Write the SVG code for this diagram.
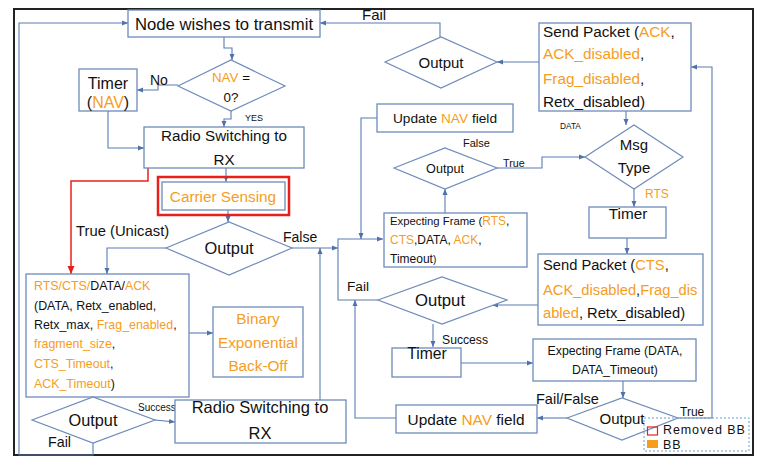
<svg xmlns="http://www.w3.org/2000/svg" width="757" height="458" viewBox="0 0 757 458">
<defs>
<marker id="ar" markerUnits="userSpaceOnUse" markerWidth="6" markerHeight="6" refX="6" refY="3" orient="auto"><path d="M0,0.5 L6,3 L0,5.5 z" fill="#4f72a8"/></marker>
<marker id="arr" markerUnits="userSpaceOnUse" markerWidth="8" markerHeight="8" refX="8" refY="4" orient="auto"><path d="M0,0.5 L8,4 L0,7.5 z" fill="#e8201c"/></marker>
<style>
.b{fill:#fff;stroke:#6f8bba;stroke-width:1.3}
.d{fill:#fff;stroke:#6f8bba;stroke-width:1.2}
.c{fill:none;stroke:#5a7db3;stroke-width:1.1;marker-end:url(#ar)}
.n{fill:none;stroke:#5a7db3;stroke-width:1.1}
text{font-family:"Liberation Sans",Arial,sans-serif;fill:#111}
.o{fill:#f59d1e}
.m{text-anchor:middle}
</style>
</defs>
<rect x="0" y="0" width="757" height="458" fill="#fff"/>
<rect x="14" y="9" width="739" height="446" fill="none" stroke="#222" stroke-width="2"/>

<g id="connectors">
<path class="c" d="M224,37 V48 H232 V60"/>
<path class="c" d="M178,85 H158 V90 H137"/>
<path class="c" d="M231,111 V119 H224 V127"/>
<path class="c" d="M108,111 V148 H144"/>
<path class="c" d="M226,168 V182"/>
<path class="c" d="M228,210 V222"/>
<path d="M148,168 V181 H71 V274" fill="none" stroke="#e8201c" stroke-width="1.5" marker-end="url(#arr)"/>
<path class="c" d="M166,248 H107 V274"/>
<path class="c" d="M292,248 H338"/>
<path class="c" d="M378,300 H338 V239 H383"/>
<path class="c" d="M377,118 H361 V239"/>
<path class="c" d="M320,400 V248"/>
<path class="c" d="M396,418 H355 V300"/>
<path class="c" d="M188,333 H213" marker-start="url(#ar)"/>
<path class="c" d="M155,420 L175,422"/>
<path class="c" d="M93,443 V455 H19 V23 H128"/>
<path class="c" d="M440,37 V23 H320"/>
<path class="c" d="M539,62 H497"/>
<path class="c" d="M626,111 V125"/>
<path class="c" d="M497,168 H542 V157 H585"/>
<path class="c" d="M445,213 V189"/>
<path class="c" d="M634,189 V207"/>
<path class="c" d="M627,238 V254"/>
<path class="c" d="M538,305 H492"/>
<path class="c" d="M433,324 V347"/>
<path class="c" d="M461,363 H533"/>
<path class="c" d="M623,381 V398"/>
<path class="c" d="M567,418 H537"/>
<path class="c" d="M678,418 H712 V67 H691"/>
</g>

<g id="labels" font-size="14">
<text x="150" y="85" font-size="14">No</text>
<text x="245" y="121" font-size="9">YES</text>
<text x="76" y="236" font-size="14.8">True (Unicast)</text>
<text x="283" y="242" font-size="14">False</text>
<text x="362" y="20" font-size="15">Fail</text>
<text x="560" y="129" font-size="8.3">DATA</text>
<text x="463" y="147" font-size="11">False</text>
<text x="503" y="167" font-size="10.7">True</text>
<text x="645" y="198" font-size="12" class="o">RTS</text>
<text x="347" y="291" font-size="13.7">Fail</text>
<text x="442" y="344" font-size="12.2">Success</text>
<text x="138" y="411" font-size="10">Success</text>
<text x="48" y="447" font-size="14.3">Fail</text>
<text x="536" y="404" font-size="14.5">Fail/False</text>
<text x="680" y="416" font-size="12">True</text>
</g>

<g id="node-transmit">
<rect class="b" x="128" y="10" width="192" height="27"/>
<text class="m" x="224" y="29.5" font-size="16.7">Node wishes to transmit</text>
</g>

<g id="node-nav-check">
<path class="d" d="M178,86 L231,60 L285,86 L231,111 z"/>
<text class="m" x="231" y="81.5" font-size="13.4"><tspan class="o">NAV</tspan> =</text>
<text class="m" x="231" y="101.5" font-size="13.4">0?</text>
</g>

<g id="node-timer-nav">
<rect class="b" x="79" y="69" width="58" height="42"/>
<text class="m" x="108" y="89" font-size="16">Timer</text>
<text class="m" x="108" y="108" font-size="16">(<tspan class="o">NAV</tspan>)</text>
</g>

<g id="node-radio-top">
<rect class="b" x="144" y="127" width="160" height="41"/>
<text class="m" x="224" y="141" font-size="15.2">Radio Switching to</text>
<text class="m" x="224" y="165" font-size="15.2">RX</text>
</g>

<g id="node-carrier">
<rect x="158" y="177" width="131" height="38" fill="none" stroke="#e8201c" stroke-width="2.5"/>
<rect class="b" x="162" y="182" width="123" height="28"/>
<text class="m o" x="223" y="201.5" font-size="15.3">Carrier Sensing</text>
</g>

<g id="node-output-cs">
<path class="d" d="M166,248 L229,222 L292,248 L229,275 z"/>
<text class="m" x="229" y="254" font-size="16.4">Output</text>
</g>

<g id="node-rts-params">
<rect class="b" x="26" y="274" width="163" height="123"/>
<g font-size="12.4">
<text x="34" y="289.5"><tspan class="o">RTS/CTS/</tspan>DATA/<tspan class="o">ACK</tspan></text>
<text x="34" y="309.5">(DATA, Retx_enabled,</text>
<text x="34" y="328.5">Retx_max, <tspan class="o">Frag_enabled</tspan>,</text>
<text x="34" y="347.5"><tspan class="o">fragment_size</tspan>,</text>
<text x="34" y="367.5"><tspan class="o">CTS_Timeout</tspan>,</text>
<text x="34" y="387.5"><tspan class="o">ACK_Timeout</tspan>)</text>
</g>
</g>

<g id="node-backoff">
<rect class="b" x="213" y="307" width="90" height="70"/>
<g class="o" font-size="15.3">
<text class="m o" x="258" y="323.5">Binary</text>
<text class="m o" x="258" y="347.5">Exponential</text>
<text class="m o" x="258" y="370.5">Back-Off</text>
</g>
</g>

<g id="node-output-bl">
<path class="d" d="M32,420 L93,397 L155,420 L93,443 z"/>
<text class="m" x="93" y="426" font-size="16.3">Output</text>
</g>

<g id="node-radio-bottom">
<rect class="b" x="175" y="400" width="171" height="43"/>
<text class="m" x="260" y="413" font-size="16.5">Radio Switching to</text>
<text class="m" x="260" y="439" font-size="16.5">RX</text>
</g>

<g id="node-output-top">
<path class="d" d="M385,62 L441,37 L497,62 L441,88 z"/>
<text class="m" x="441" y="67.5" font-size="15">Output</text>
</g>

<g id="node-send-ack">
<rect class="b" x="539" y="23" width="152" height="88"/>
<g font-size="15.3">
<text x="543" y="36.5">Send Packet (<tspan class="o">ACK</tspan>,</text>
<text x="543" y="58.5"><tspan class="o">ACK_disabled</tspan>,</text>
<text x="543" y="83.5"><tspan class="o">Frag_disabled</tspan>,</text>
<text x="543" y="107">Retx_disabled)</text>
</g>
</g>

<g id="node-update-nav-top">
<rect class="b" x="377" y="104" width="136" height="28"/>
<text class="m" x="445" y="123" font-size="13.7">Update <tspan class="o">NAV</tspan> field</text>
</g>

<g id="node-output-small">
<path class="d" d="M394,168 L445,148 L497,168 L445,189 z"/>
<text class="m" x="445" y="172.5" font-size="12.6">Output</text>
</g>

<g id="node-msg-type">
<path class="d" d="M585,157 L634,125 L683,157 L634,189 z"/>
<text class="m" x="634" y="150" font-size="15">Msg</text>
<text class="m" x="634" y="173" font-size="15">Type</text>
</g>

<g id="node-timer-right">
<rect class="b" x="589" y="207" width="77" height="31"/>
<text class="m" x="628" y="219" font-size="15.3">Timer</text>
</g>

<g id="node-expect-rts">
<rect class="b" x="384" y="213" width="143" height="54"/>
<g font-size="12">
<text x="390" y="225"><tspan font-size="11.3">Expecting Frame (</tspan><tspan class="o">RTS</tspan>,</text>
<text x="390" y="244"><tspan class="o">CTS</tspan>,DATA, <tspan class="o">ACK</tspan>,</text>
<text x="390" y="263">Timeout<tspan font-size="10">)</tspan></text>
</g>
</g>

<g id="node-send-cts">
<rect class="b" x="538" y="254" width="165" height="71"/>
<g font-size="14.7">
<text x="543" y="270">Send Packet (<tspan class="o">CTS</tspan>,</text>
<text x="543" y="295"><tspan class="o">ACK_disabled</tspan>,<tspan class="o">Frag_dis</tspan></text>
<text x="543" y="318"><tspan class="o">abled</tspan>, Retx_disabled)</text>
</g>
</g>

<g id="node-output-fail">
<path class="d" d="M378,300 L442,277 L507,300 L442,324 z"/>
<text class="m" x="440" y="306" font-size="16.7">Output</text>
</g>

<g id="node-timer-bottom">
<rect class="b" x="392" y="348" width="69" height="29"/>
<text class="m" x="427" y="359" font-size="15.7">Timer</text>
</g>

<g id="node-expect-data">
<rect class="b" x="533" y="339" width="163" height="42"/>
<text class="m" x="615" y="354.5" font-size="12.3">Expecting Frame (DATA,</text>
<text class="m" x="615" y="373.5" font-size="12.3">DATA_Timeout)</text>
</g>

<g id="node-output-br">
<path class="d" d="M567,418 L622,398 L678,418 L622,440 z"/>
<text class="m" x="622" y="423.5" font-size="15">Output</text>
</g>

<g id="node-update-nav-bottom">
<rect class="b" x="396" y="405" width="141" height="28"/>
<text class="m" x="466" y="424.5" font-size="15.4">Update <tspan class="o">NAV</tspan> field</text>
</g>

<g id="legend">
<rect x="644" y="418" width="105" height="33" fill="none" stroke="#6a9fd4" stroke-width="1" stroke-dasharray="2,2"/>
<rect x="647.5" y="427" width="10" height="8" fill="none" stroke="#e8201c" stroke-width="1.2"/>
<rect x="647" y="440" width="11" height="8" fill="#f59d1e"/>
<text x="663" y="434" font-size="12.5" letter-spacing="0.9">Removed BB</text>
<text x="663" y="448.5" font-size="12.5" letter-spacing="0.9">BB</text>
</g>
</svg>
